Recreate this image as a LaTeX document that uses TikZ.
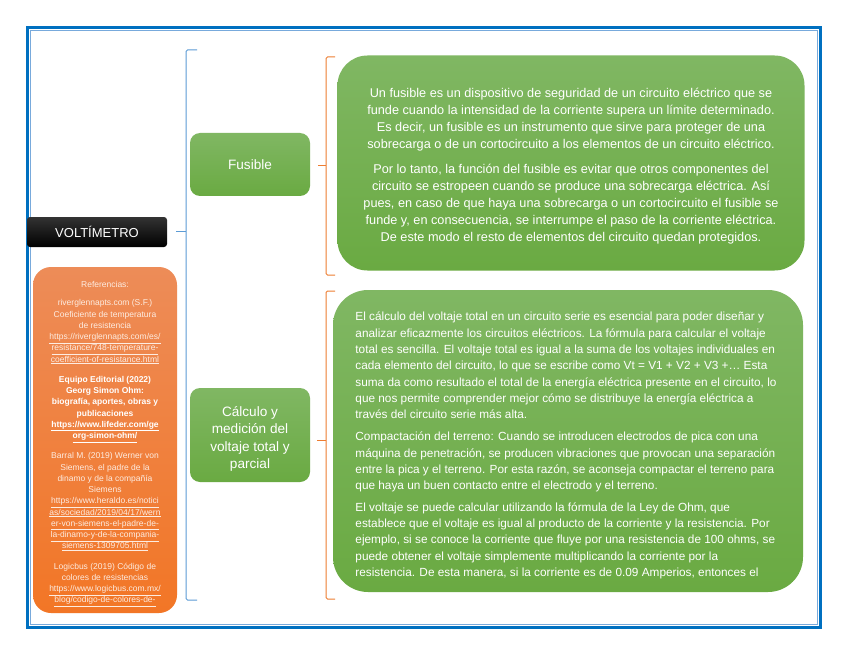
\documentclass[tikz,border=0pt]{standalone}
\usepackage{fontspec}
\setmainfont{Liberation Sans}
\usepackage{tikz}
\definecolor{frameblue}{RGB}{0,112,192}
\definecolor{framelight}{RGB}{120,170,220}
\definecolor{brkblue}{RGB}{91,155,213}
\definecolor{brkorange}{RGB}{237,125,49}
\definecolor{leafA}{RGB}{128,183,99}
\definecolor{leafB}{RGB}{106,170,66}
\definecolor{refA}{RGB}{237,140,88}
\definecolor{refB}{RGB}{242,118,38}
\tikzset{
    leaf/.style={rounded corners=#1, top color=leafA, bottom color=leafB, draw=none, text=white, inner sep=0pt},
    refbox/.style={rounded corners=18pt, top color=refA, bottom color=refB, draw=none, inner sep=0pt},
    brkb/.style={brkblue, line width=1pt, rounded corners=1.5pt},
    brko/.style={brkorange, line width=1pt, rounded corners=1.5pt}
}
\newcommand{\reftxt}[1]{\textcolor{white!86!refB}{#1}}
\begin{document}
\begin{tikzpicture}[x=1pt,y=-1pt]
\useasboundingbox[fill=white] (0,0) rectangle (848,655);
\draw[frameblue, line width=3pt]
    (27.5,27.5) rectangle (820.5,627.5);
\draw[framelight, line width=0.8pt]
    (30.5,30.5) rectangle (817.5,624.5);
\node[rounded corners=3pt, top color=black!80, bottom color=black, minimum width=140pt, minimum height=30pt, inner sep=0pt, text=white, font=\fontsize{13}{15}\selectfont] (voltim) at (97,232) {VOLTÍMETRO};
\node[refbox, minimum width=144pt, minimum height=346pt] (refs) at (105,440) {};
\node[align=center, font=\fontsize{8.5}{11.25}\selectfont, inner sep=0pt] (reftext) at (105,444) {%
\reftxt{Referencias:}\\[7pt]
\reftxt{riverglennapts.com (S.F.)}\\
\reftxt{Coeficiente de temperatura}\\
\reftxt{de resistencia}\\
\reftxt{\underline{https://riverglennapts.com/es/}}\\
\reftxt{\underline{resistance/748-temperature-}}\\
\reftxt{\underline{coefficient-of-resistance.html}}\\[9pt]
\textcolor{white}{\bfseries Equipo Editorial (2022)}\\
\textcolor{white}{\bfseries Georg Simon Ohm:}\\
\textcolor{white}{\bfseries biografía, aportes, obras y}\\
\textcolor{white}{\bfseries publicaciones}\\
\textcolor{white}{\bfseries \underline{https://www.lifeder.com/ge}}\\
\textcolor{white}{\bfseries \underline{org-simon-ohm/}}\\[9pt]
\reftxt{Barral M. (2019) Werner von}\\
\reftxt{Siemens, el padre de la}\\
\reftxt{dinamo y de la compañía}\\
\reftxt{Siemens}\\
\reftxt{\underline{https://www.heraldo.es/notici}}\\
\reftxt{\underline{as/sociedad/2019/04/17/wern}}\\
\reftxt{\underline{er-von-siemens-el-padre-de-}}\\
\reftxt{\underline{la-dinamo-y-de-la-compania-}}\\
\reftxt{\underline{siemens-1309705.html}}\\[9pt]
\reftxt{Logicbus (2019) Código de}\\
\reftxt{colores de resistencias}\\
\reftxt{\underline{https://www.logicbus.com.mx/}}\\
\reftxt{\underline{blog/codigo-de-colores-de-}}};
\coordinate (bvolt) at (186,231);
\coordinate (bfuse) at (326,166);
\coordinate (bcalc) at (326,440);
\draw[brkb]
    (197,50)--(186,50)--(186,600)--(197,600);
\draw[brkb] (bvolt)--++(-10,0);
\draw[brko]
    (335,57)--(326,57)--(326,275)--(335,275);
\draw[brko] (bfuse)--++(-8,0);
\draw[brko]
    (335,291)--(326,291)--(326,599)--(335,599);
\draw[brko] (bcalc)--++(-9,0);
\node[leaf=10pt, minimum width=120pt, minimum height=63pt, font=\fontsize{13.6}{17}\selectfont] (fuse) at (250,164.5) {Fusible};
\node[leaf=10pt, minimum width=120pt, minimum height=94pt] (calc) at (250,435) {};
\node[align=center, text=white, inner sep=0pt, font=\fontsize{13.6}{17.5}\selectfont] (calclbl) at (250,439) {Cálculo y\\medición del\\voltaje total y\\parcial};
\node[leaf=30pt, minimum width=467pt, minimum height=215pt] (fusebox) at (571,163) {};
\node[align=center, text=white, inner sep=0pt, font=\fontsize{12.7}{17}\selectfont] (fusetxt) at (571,166.5) {%
Un fusible es un dispositivo de seguridad de un circuito eléctrico que se\\
funde cuando la intensidad de la corriente supera un límite determinado.\\
Es decir, un fusible es un instrumento que sirve para proteger de una\\
sobrecarga o de un cortocircuito a los elementos de un circuito eléctrico.\\[8pt]
Por lo tanto, la función del fusible es evitar que otros componentes del\\
circuito se estropeen cuando se produce una sobrecarga eléctrica. Así\\
pues, en caso de que haya una sobrecarga o un cortocircuito el fusible se\\
funde y, en consecuencia, se interrumpe el paso de la corriente eléctrica.\\
De este modo el resto de elementos del circuito quedan protegidos.};
\node[leaf=35pt, minimum width=470pt, minimum height=302pt] (calcbox) at (568,441) {};
\node[align=left, text=white, inner sep=0pt, font=\fontsize{11.8}{16.3}\selectfont] (calctxt) at (566,445.5) {%
El cálculo del voltaje total en un circuito serie es esencial para poder diseñar y\\
analizar eficazmente los circuitos eléctricos. La fórmula para calcular el voltaje\\
total es sencilla. El voltaje total es igual a la suma de los voltajes individuales en\\
cada elemento del circuito, lo que se escribe como Vt = V1 + V2 + V3 +… Esta\\
suma da como resultado el total de la energía eléctrica presente en el circuito, lo\\
que nos permite comprender mejor cómo se distribuye la energía eléctrica a\\
través del circuito serie más alta.\\[6pt]
Compactación del terreno: Cuando se introducen electrodos de pica con una\\
máquina de penetración, se producen vibraciones que provocan una separación\\
entre la pica y el terreno. Por esta razón, se aconseja compactar el terreno para\\
que haya un buen contacto entre el electrodo y el terreno.\\[5pt]
El voltaje se puede calcular utilizando la fórmula de la Ley de Ohm, que\\
establece que el voltaje es igual al producto de la corriente y la resistencia. Por\\
ejemplo, si se conoce la corriente que fluye por una resistencia de 100 ohms, se\\
puede obtener el voltaje simplemente multiplicando la corriente por la\\
resistencia. De esta manera, si la corriente es de 0.09 Amperios, entonces el};
\end{tikzpicture}
\end{document}
